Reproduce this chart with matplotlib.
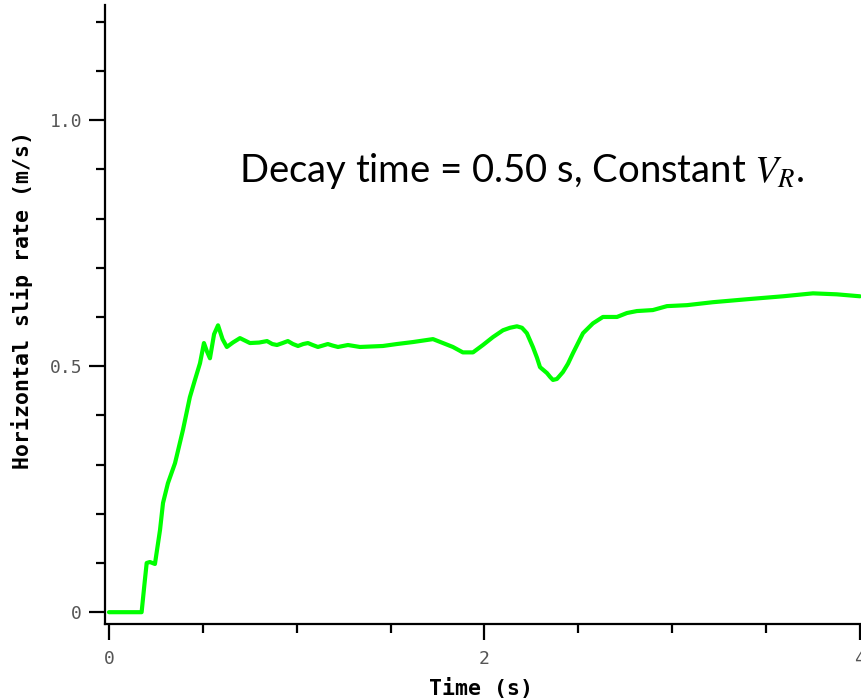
import numpy as np
import matplotlib
matplotlib.use("Agg")
from matplotlib import pyplot as plt
from matplotlib.ticker import MultipleLocator

# values
time_s = [0.0, 0.005, 0.174, 0.190, 0.201, 0.218, 0.245, 0.272, 0.288, 0.314,
          0.352, 0.394, 0.431, 0.458, 0.485, 0.506, 0.522, 0.538, 0.560, 0.581,
          0.605, 0.628, 0.660, 0.698, 0.751, 0.800, 0.842, 0.870, 0.895, 0.925,
          0.953, 0.980, 1.007, 1.035, 1.060, 1.085, 1.113, 1.140, 1.166, 1.190,
          1.220, 1.273, 1.337, 1.459, 1.534, 1.619, 1.726, 1.779, 1.832, 1.885,
          1.939, 1.992, 2.045, 2.099, 2.136, 2.173, 2.200, 2.226, 2.258, 2.280,
          2.296, 2.333, 2.350, 2.365, 2.386, 2.418, 2.445, 2.471, 2.525, 2.578,
          2.631, 2.706, 2.759, 2.812, 2.897, 2.972, 3.079, 3.217, 3.398, 3.590,
          3.750, 3.877, 4.000]
slip_rate = [0.0, 0.0, 0.0, 0.060, 0.100, 0.102, 0.098, 0.167, 0.222, 0.262,
             0.303, 0.370, 0.437, 0.472, 0.506, 0.547, 0.530, 0.516, 0.565, 0.583,
             0.555, 0.539, 0.548, 0.557, 0.547, 0.548, 0.551, 0.545, 0.543, 0.547,
             0.551, 0.545, 0.541, 0.545, 0.547, 0.543, 0.539, 0.542, 0.545, 0.542,
             0.539, 0.543, 0.539, 0.541, 0.545, 0.549, 0.555, 0.547, 0.539, 0.528,
             0.528, 0.543, 0.559, 0.573, 0.578, 0.581, 0.578, 0.567, 0.539, 0.517,
             0.498, 0.486, 0.478, 0.472, 0.474, 0.488, 0.505, 0.526, 0.567, 0.587,
             0.600, 0.600, 0.608, 0.612, 0.614, 0.622, 0.624, 0.630, 0.636, 0.642,
             0.648, 0.646, 0.642]

xticks = [0, 2, 4]
xtick_labels = ["0", "2", "4"]
yticks = [0, 0.5, 1.0]
ytick_labels = ["0", "0.5", "1.0"]

plt.rcParams["mathtext.fontset"] = "stix"

fig = plt.figure(figsize=(8.62, 7.0), dpi=100)
ax = fig.add_axes([105 / 862, 1 - 624 / 700, 1 - 105 / 862, (624 - 5) / 700])

ax.plot(time_s, slip_rate, color="#00ff00", lw=3.0, solid_joinstyle="round",
        solid_capstyle="round", clip_on=False)

ax.set_xlim(-0.021, 4.011)
ax.set_ylim(-0.024, 1.234)

for side in ["top", "right"]:
    ax.spines[side].set_visible(False)
for side in ["left", "bottom"]:
    ax.spines[side].set_linewidth(1.6)

ax.set_xticks(xticks)
ax.set_xticklabels(xtick_labels)
ax.set_yticks(yticks)
ax.set_yticklabels(ytick_labels)
ax.xaxis.set_minor_locator(MultipleLocator(0.5))
ax.yaxis.set_minor_locator(MultipleLocator(0.1))

ax.tick_params(which="major", length=11.5, width=1.6, color="black",
               labelsize=13, labelcolor="#555555")
ax.tick_params(axis="x", which="major", pad=7)
ax.tick_params(axis="y", which="major", pad=5)
ax.tick_params(which="minor", length=6.5, width=1.6, color="black")
for lbl in ax.get_xticklabels() + ax.get_yticklabels():
    lbl.set_family("DejaVu Sans Mono")

fig.text(481 / 862, 1 - 688 / 700, "Time (s)", family="DejaVu Sans Mono",
         weight="bold", fontsize=15.5, ha="center", va="center")
fig.text(22 / 862, 1 - 300 / 700, "Horizontal slip rate (m/s)",
         family="DejaVu Sans Mono", weight="bold", fontsize=15.5,
         rotation=90, ha="center", va="center")

fig.text(522 / 862, 1 - 182 / 700, r"Decay time = 0.50 s, Constant $V_R$.",
         family="Lato", fontsize=27.5, ha="center", va="baseline")

fig.savefig("out.png", dpi=100)
